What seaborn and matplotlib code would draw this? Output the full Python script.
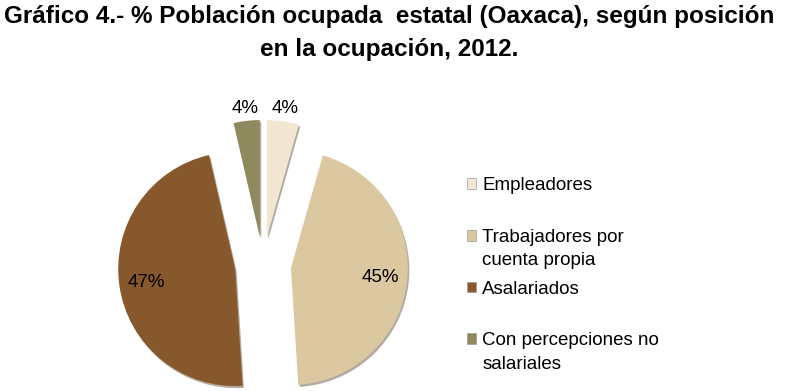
import matplotlib
matplotlib.use("Agg")
import numpy as np
import matplotlib.pyplot as plt
import matplotlib.patches as mpatches
import matplotlib.patheffects as pe
from matplotlib.legend_handler import HandlerPatch
import seaborn as sns

# datos (porcentajes aproximados)
categorias = ["Empleadores\n ", "Trabajadores por\ncuenta propia", "Asalariados\n ", "Con percepciones no\nsalariales"]
porcentajes = [4.4, 44.6, 47.4, 3.6]
colores = ["#F2E6D2", "#DBC7A0", "#87582B", "#8E8A5E"]
titulo = "Gráfico 4.- % Población ocupada  estatal (Oaxaca), según posición\nen la ocupación, 2012."

sns.set_style("white")
plt.rcParams["font.family"] = ["Liberation Sans", "DejaVu Sans"]
plt.rcParams["text.color"] = "black"

fig = plt.figure(figsize=(7.87, 3.91), dpi=100)
ax = fig.add_axes([0, 0, 1, 1])

radio = 117
wedges, texts, autotexts = ax.pie(
    porcentajes, colors=colores, startangle=90, counterclock=False,
    explode=[0.24 * radio] * len(porcentajes), radius=radio, center=(263, 126),
    autopct="%1.0f%%", pctdistance=0.77,
    textprops={"fontsize": 13.5, "color": "black"},
    wedgeprops={"linewidth": 0})

# etiquetas de los sectores chicos van por fuera
for w, t, p in zip(wedges, autotexts, porcentajes):
    if p < 10:
        ang = np.deg2rad((w.theta1 + w.theta2) / 2)
        t.set_position((w.center[0] + 1.11 * w.r * np.cos(ang),
                        w.center[1] + 1.11 * w.r * np.sin(ang)))

ax.set_xlim(0, 787)
ax.set_ylim(0, 391)
ax.set_aspect("equal")
ax.axis("off")


def cuadro_arriba(legend, orig_handle, xdescent, ydescent, width, height, fontsize):
    # el cuadrito va a la altura de la primera linea del texto
    return mpatches.Rectangle((-xdescent, -ydescent + 0.73 * fontsize), width, height)


leg = ax.legend(wedges, categorias, loc="upper left", bbox_to_anchor=(467 / 787, 1 - 177 / 391),
                bbox_transform=fig.transFigure, frameon=False, fontsize=13.5,
                handlelength=0.5, handleheight=0.5, handletextpad=0.32,
                labelspacing=0.6, borderpad=0, borderaxespad=0,
                handler_map={mpatches.Wedge: HandlerPatch(patch_func=cuadro_arriba)})
for t in leg.get_texts():
    t.set_linespacing(1.5)
    t.set_color("black")
for h in leg.legend_handles:
    h.set_edgecolor("#9a9a9a")
    h.set_linewidth(0.5)

# sombra suave en los sectores (despues de la leyenda para que no se copie)
for w in wedges:
    w.set_path_effects([pe.SimplePatchShadow(offset=(1, -1.5), shadow_rgbFace="#3b2c14", alpha=0.4),
                        pe.Normal()])

fig.text(0.494, 1 - 56 / 391, titulo, ha="center", va="baseline", fontsize=17.5,
         fontweight="bold", linespacing=1.58, multialignment="center")

fig.savefig("out.png", dpi=100)
